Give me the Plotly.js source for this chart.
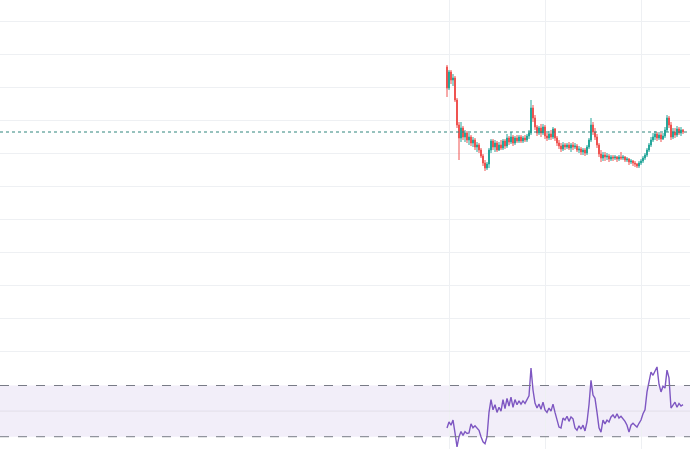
<!DOCTYPE html>
<html>
<head>
<meta charset="utf-8">
<script src="https://cdn.plot.ly/plotly-3.0.1.min.js"></script>
<style>html,body{margin:0;padding:0;background:#fff;}#chart{width:690px;height:449px;}</style>
</head>
<body>
<div id="chart"></div>
<script>
// Price candles (arbitrary price units)
const openVals  = [433,412,428,420,422,400,375,362,372,363,367,360,363,357,360,353,355,350,344,337,332,336,350,359,353,357,350,355,352,359,354,362,358,363,357,362,359,363,359,362,360,364,367,392,382,373,367,372,367,373,364,362,366,363,371,362,357,354,351,355,353,355,352,355,353,354,350,351,348,350,347,353,360,375,368,363,355,346,342,345,343,344,341,343,342,343,341,343,342,343,340,341,338,339,337,336,334,337,339,342,345,350,355,360,363,366,362,365,361,364,370,382,375,363,368,365,371,367,370];
const highVals  = [435,430,430,426,424,402,378,378,374,370,369,367,365,363,362,358,357,352,346,340,338,352,361,361,360,359,358,360,361,361,366,364,368,365,364,365,365,365,364,365,366,370,400,395,385,375,374,376,376,375,367,369,370,373,372,364,360,357,358,357,357,358,357,358,357,356,354,353,352,352,355,362,382,378,372,366,357,350,348,348,347,346,345,345,345,344,345,348,345,344,343,342,341,340,339,337,339,341,344,347,352,357,363,367,369,368,368,367,367,373,385,384,378,372,372,374,373,373,371];
const lowVals   = [403,410,416,414,398,372,340,358,360,358,357,355,354,353,350,348,347,342,334,329,330,332,347,350,348,348,349,350,350,351,352,355,356,354,355,357,357,357,357,358,358,361,365,378,370,364,365,363,365,361,359,360,360,361,359,354,351,348,349,350,351,350,348,350,351,348,347,345,345,344,345,351,358,365,360,352,343,338,339,339,340,338,339,339,340,338,339,340,340,338,338,335,336,334,333,332,332,335,337,340,343,348,353,358,360,359,360,358,360,362,368,372,360,361,362,363,365,364,366];
const closeVals = [412,428,420,422,400,375,362,372,363,367,360,363,357,360,353,355,350,344,337,332,336,350,359,353,357,350,355,352,359,354,362,358,363,357,362,359,363,359,362,360,364,367,392,382,373,367,372,367,373,364,362,366,363,371,362,357,354,351,355,353,355,352,355,353,354,350,351,348,350,347,353,360,375,368,363,355,346,342,345,343,344,341,343,342,343,341,343,342,343,340,341,338,339,337,336,334,337,339,342,345,350,355,360,363,366,362,365,361,364,370,382,375,363,368,365,371,367,370,368];
// RSI(14) values
const rsiVals   = [36.8,41.5,39,43,33,22,30,34,31,34,32.5,33,40,37,38.5,37,35,30,26,24.5,30,49,59,51,55,49,53,50,59,52,60,54,61,53,59,55,58,55.5,58,56,59.5,62,83.7,66.5,56.3,52.4,55.5,51.5,57,51,49,52.4,50,55.5,49,43,37.5,36.8,44.6,43,46,42,45.4,44,36.8,35,38.5,36,39,34.5,41.5,55,74,62.5,60,49,37,33.6,43,40,43,41.5,45.4,47,44.6,48,44.6,46,44,42,39,33.6,39,40.5,39,37.5,40.5,43,48,51,65,74,80.5,78,82,84.5,71,65,69.5,68,82,76,52.4,55,57,53,56,54,55];
// RSI band levels
const rsiUpper = 70, rsiMid = 50, rsiLower = 30;
// bars where the vertical time gridlines fall
const timeGridBars = [1, 49, 97];

const barIndex = openVals.map((_, i) => i);
const lastClose = closeVals[closeVals.length - 1];

const traces = [
  {
    type: 'candlestick',
    x: barIndex, open: openVals, high: highVals, low: lowVals, close: closeVals,
    xaxis: 'x', yaxis: 'y',
    increasing: {line: {color: '#26a69a', width: 1}, fillcolor: '#26a69a'},
    decreasing: {line: {color: '#ef5350', width: 1}, fillcolor: '#ef5350'},
    hoverinfo: 'skip'
  },
  {
    type: 'scatter', mode: 'lines',
    x: barIndex, y: rsiVals,
    xaxis: 'x', yaxis: 'y2',
    line: {color: '#7e57c2', width: 1.4},
    hoverinfo: 'skip'
  }
];

const layout = {
  width: 690, height: 449,
  margin: {l: 0, r: 0, t: 0, b: 0, pad: 0},
  paper_bgcolor: '#ffffff', plot_bgcolor: '#ffffff',
  showlegend: false,
  xaxis: {
    range: [-223.5, 121.5],
    showticklabels: false, ticks: '', zeroline: false,
    showgrid: true, gridcolor: '#eef0f3', gridwidth: 1,
    tickmode: 'array', tickvals: timeGridBars,
    rangeslider: {visible: false},
    fixedrange: true
  },
  yaxis: {
    domain: [0.2, 1],
    range: [140.8, 500],
    showticklabels: false, ticks: '', zeroline: false,
    showgrid: true, gridcolor: '#eef0f3', gridwidth: 1,
    tick0: 149, dtick: 33,
    fixedrange: true
  },
  yaxis2: {
    domain: [0, 0.2],
    range: [20.4, 90.55],
    showticklabels: false, ticks: '', zeroline: false,
    showgrid: false,
    fixedrange: true
  },
  shapes: [
    {type: 'rect', xref: 'paper', yref: 'y2', x0: 0, x1: 1, y0: rsiLower, y1: rsiUpper,
     fillcolor: 'rgba(126,87,194,0.1)', line: {width: 0}, layer: 'below'},
    {type: 'line', xref: 'paper', yref: 'y2', x0: 0, x1: 1, y0: rsiMid, y1: rsiMid,
     line: {color: 'rgba(120,123,134,0.12)', width: 1}},
    {type: 'line', xref: 'paper', yref: 'y2', x0: 0, x1: 1, y0: rsiUpper, y1: rsiUpper,
     line: {color: '#787b86', width: 1, dash: 'dash'}},
    {type: 'line', xref: 'paper', yref: 'y2', x0: 0, x1: 1, y0: rsiLower, y1: rsiLower,
     line: {color: '#787b86', width: 1, dash: 'dash'}},
    {type: 'line', xref: 'paper', yref: 'y', x0: 0, x1: 1, y0: lastClose, y1: lastClose,
     line: {color: '#2f857d', width: 1, dash: 'dot'}}
  ]
};

Plotly.newPlot('chart', traces, layout, {displayModeBar: false, staticPlot: true});
</script>
</body>
</html>
